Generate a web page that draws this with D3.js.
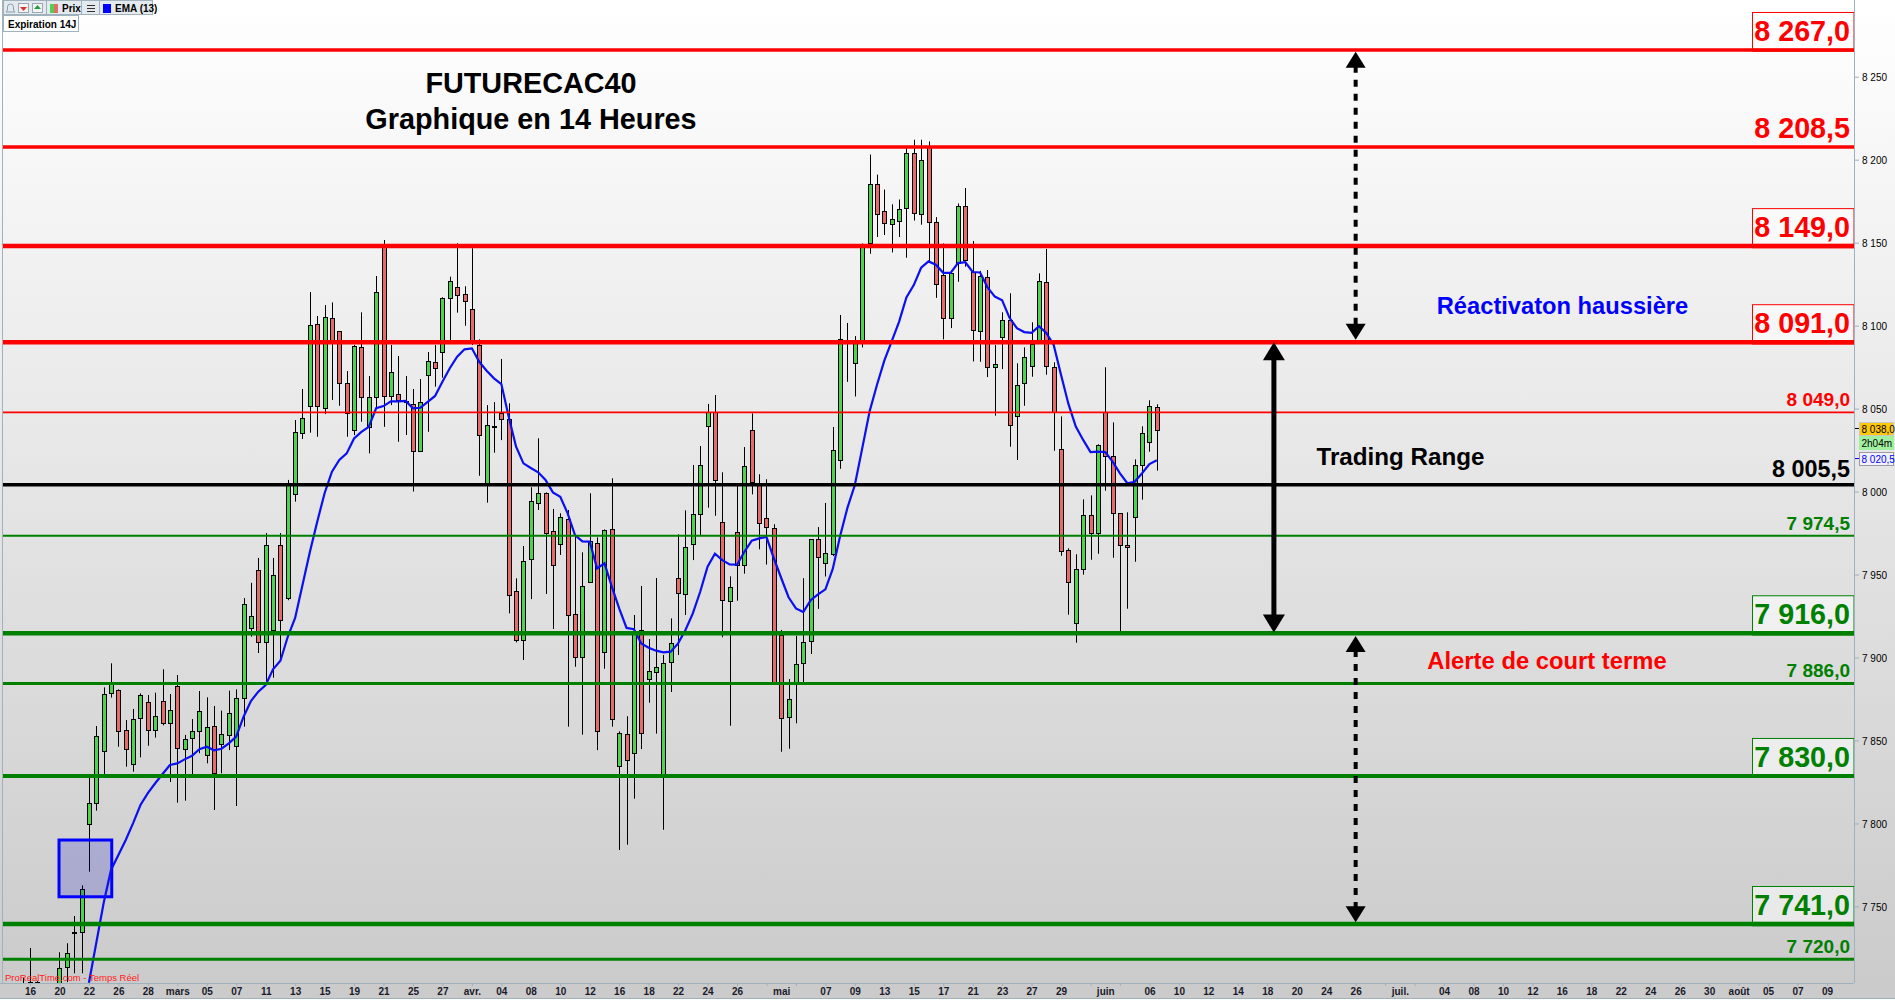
<!DOCTYPE html>
<html>
<head>
<meta charset="utf-8">
<style>
  html, body { margin: 0; padding: 0; background: #fff; }
  text { font-family: "Liberation Sans", Arial, sans-serif; }
</style>
<script src="https://cdn.jsdelivr.net/npm/d3@7"></script>
</head>
<body>
<div id="my_chart"></div>
<script>
// first bar of the arrays below sits one slot left of the "16" label
var firstBar = -1;

var barOpen = [
  7695, 7704.5, 7704.6, 7695, 7698, 7696.6, 7713.3, 7734.2, 7734.4, 7799.5,
  7812.1, 7843.5, 7878.4, 7880.2, 7856.1, 7835.6, 7863.3, 7873, 7856.1, 7873.6,
  7860.3, 7882.6, 7844.7, 7851.3, 7855.5, 7841.1, 7858.5, 7847.7, 7853.1, 7846.5,
  7875.4, 7918, 7952.7, 7909.1, 7916.6, 7967.8, 7935.8, 7998.3, 8035.1, 8051.4,
  8100.8, 8050.2, 8104.4, 8096.6, 8065.2, 8036.9, 8086.9, 8039, 8056.8, 8148,
  8057.4, 8058.6, 8053.7, 8052.6, 8024.2, 8070, 8077.9, 8083.9, 8116.4, 8123.1,
  8118.9, 8109.8, 8088.3, 8003.9, 8039.5, 8047.2, 8043.7, 7939.9, 7910.1, 7959.2,
  7992.9, 7999, 7976, 7968.2, 7983.3, 7926, 7900.1, 7945.3, 7968.8, 7903.1,
  7977.2, 7834.4, 7853.7, 7842.3, 7916.4, 7886.8, 7891.1, 7829.2, 7897.1, 7947.7,
  7938.1, 7968.2, 7986.3, 8039.3, 8047.9, 7981.5, 7933.9, 7975.4, 7955.5, 8036.9,
  8005.1, 7983.9, 7977.9, 7913.6, 7864, 7884.6, 7896.4, 7909.9, 7971.2, 7956.6,
  7962, 8018.9, 8090.1, 8077.2, 8090.1, 8149.5, 8185.1, 8168.9, 8161.5, 8163,
  8170.6, 8203.8, 8167.4, 8207.6, 8162.3, 8130.3, 8104.2, 8137.4, 8171.9, 8132.3,
  8096.4, 8129.1, 8074.7, 8092.7, 8103.2, 8045.3, 8065.2, 8075.5, 8091.3, 8126.1,
  8074.9, 8025.4, 7964.6, 7920.6, 7953.1, 7985.7, 7974.8, 8047.7, 8021.2, 7986.9,
  7967.6, 7984.5, 8015.8, 8029.7, 8050.8
];
var barHigh = [
  7706.9, 7724.9, 7705, 7700, 7702, 7722.4, 7727.8, 7744.2, 7762.7, 7829.2,
  7858.7, 7882, 7896.5, 7880.8, 7862.3, 7869, 7878.4, 7877.4, 7878.8, 7892.9,
  7878, 7889.4, 7853.3, 7862.9, 7879.8, 7876, 7870.8, 7868, 7880, 7880.8,
  7935.8, 7945, 7960, 7975, 7960, 7975, 8007, 8043.1, 8061.8, 8120.2,
  8105.8, 8112.4, 8114, 8096.7, 8072.6, 8088.3, 8108, 8069.6, 8129.9, 8151.6,
  8088.3, 8081.7, 8069.6, 8061.8, 8067.8, 8084.1, 8088.3, 8117.1, 8129.5, 8149.6,
  8123.7, 8146.6, 8091.7, 8052.1, 8053.9, 8079.9, 8053.2, 7947.7, 7967.2, 8002.6,
  8032.1, 7999.5, 7989.5, 7986.9, 7988.9, 7972.6, 7963.4, 7999, 7972.4, 7977.2,
  8008, 7855.5, 7864.6, 7925.6, 7943.1, 7911.1, 7947.9, 7901.5, 7923.6, 7974.2,
  7988.7, 8016, 8027.4, 8052.8, 8058.2, 8011.6, 7948.9, 8003.9, 8026.8, 8047.1,
  8010.4, 8007.4, 7980.3, 7916.6, 7887, 7913.1, 7947.8, 7971.4, 7978.6, 7993.1,
  8038.9, 8106.4, 8101.6, 8093.7, 8149.5, 8203.1, 8191, 8182, 8173.1, 8176,
  8207, 8212, 8212, 8211, 8165.4, 8149.5, 8133.5, 8173.6, 8182.9, 8151,
  8133, 8133.5, 8088.3, 8108, 8119.5, 8077.3, 8086.9, 8102, 8131.5, 8146.2,
  8077.9, 8045.3, 7965.8, 7962.2, 7995.3, 7997.7, 8028.5, 8074.9, 8041.7, 7987,
  7987.5, 8019.4, 8039.3, 8055, 8052.6
];
var barLow = [
  7690, 7696.6, 7695, 7690, 7692, 7693.6, 7704.4, 7709.7, 7709.7, 7770.9,
  7807.7, 7829.8, 7875.8, 7846.2, 7834.2, 7831.2, 7839.8, 7846.8, 7851.7, 7859.1,
  7825, 7812.5, 7813.7, 7829.2, 7842.3, 7836.2, 7808.1, 7830.2, 7844.2, 7810.5,
  7858.3, 7912.5, 7902.7, 7885.4, 7887.8, 7898.5, 7934.5, 7993.9, 8031.7, 8035.5,
  8033, 8046.7, 8055.2, 8051.7, 8033, 8034, 8042.1, 8023, 8050.3, 8039,
  8052.1, 8030, 8034.1, 8000, 8023.8, 8036, 8063.2, 8068.6, 8091.3, 8107.8,
  8099.9, 8088.3, 8009.5, 7993.3, 8023.4, 8031, 7926.6, 7909.1, 7898.5, 7935.2,
  7988.9, 7938.3, 7917.2, 7961.8, 7858.3, 7894.4, 7853.5, 7944.9, 7844.2, 7893.2,
  7858.3, 7784, 7787.2, 7814.9, 7844.8, 7872.7, 7854.1, 7796.2, 7879.2, 7901.5,
  7925.6, 7958.7, 7973.8, 7990.3, 7985.4, 7912.2, 7858.9, 7934.2, 7950.5, 7998.3,
  7965.2, 7956, 7884, 7843.2, 7845, 7860.3, 7885.2, 7902.1, 7929.3, 7948.8,
  7961.1, 8013.7, 8066.1, 8057.3, 8086.8, 8143.3, 8153.4, 8154.6, 8144.1, 8153.4,
  8140.9, 8163.3, 8160.8, 8137.9, 8116.7, 8091.7, 8098.5, 8126.4, 8135.5, 8078.4,
  8078.2, 8069, 8045.7, 8073.8, 8027, 8019, 8051.7, 8069.2, 8090.7, 8070.4,
  8024.6, 7961.3, 7925.8, 7908.9, 7949.9, 7958.9, 7962.5, 8000.5, 7960.1, 7915.8,
  7929.4, 7957.7, 7995.1, 8024, 8012.6
];
var barClose = [
  7692, 7704.2, 7700, 7698, 7700, 7713.1, 7721.7, 7734.6, 7760.3, 7812.1,
  7852.5, 7877.8, 7884.6, 7855.5, 7844.7, 7862.8, 7877.2, 7856.1, 7864.6, 7860.3,
  7868.2, 7845.3, 7850.7, 7855.5, 7867.6, 7857.9, 7830.2, 7853.7, 7866.4, 7875.4,
  7932.2, 7925, 7909.1, 7967.8, 7950, 7922.6, 8005, 8035.7, 8044.1, 8100.2,
  8051.4, 8105, 8090.1, 8065.2, 8047.1, 8087.5, 8056.8, 8056.8, 8120, 8057.4,
  8071.9, 8055, 8054.6, 8024.2, 8053.8, 8078.5, 8074.3, 8116.4, 8126.7, 8118.3,
  8114.4, 8090.1, 8033.9, 8039.9, 8039.2, 8043.5, 7937.5, 7910.1, 7958, 7994.1,
  7999, 7974.6, 7955.5, 7984.5, 7925.4, 7900.1, 7942.9, 7970, 7855.5, 7976.6,
  7862.7, 7854.3, 7838.1, 7915.4, 7854.3, 7891.7, 7894.1, 7896.5, 7908.5, 7938.7,
  7966.4, 7986.3, 8015.8, 8047.9, 8006.8, 7934.5, 7942.3, 7955.5, 8015.2, 8005.6,
  7980.9, 7978.4, 7884.6, 7863.4, 7874.8, 7895.9, 7909.2, 7971.2, 7960.4, 7962.8,
  8024.8, 8091.7, 8091.3, 8090.1, 8148, 8185.1, 8166.9, 8161.5, 8164.5, 8170.4,
  8203.8, 8167.4, 8200.1, 8162.3, 8124.9, 8104.2, 8131.5, 8171.9, 8139.2, 8097.1,
  8129.8, 8074.7, 8076.7, 8103.2, 8039.9, 8064, 8080.9, 8088.7, 8126.7, 8075.5,
  8047.7, 7964, 7945.3, 7953.1, 7985.7, 7974.8, 8027.9, 8021.2, 7986.9, 7967.6,
  7966.4, 8015.8, 8035.1, 8051.4, 8036.9
];

// EMA (13), one value per bar from bar 8 on
var emaFirstBar = 8;
var emaValues = [
  7704, 7728, 7752, 7772, 7781, 7790, 7800.2, 7811.1, 7818.3, 7824.2,
  7829.8, 7835.2, 7836.2, 7838.6, 7840.8, 7844.7, 7846.2, 7844.1, 7845, 7848.3,
  7852.3, 7864.3, 7873.8, 7879.4, 7883.4, 7892.9, 7898, 7912.5, 7923.8, 7943.7,
  7963.6, 7981.8, 7999, 8012, 8019, 8023, 8032, 8036, 8039, 8050.2,
  8051.5, 8054.4, 8054.4, 8054.6, 8050.2, 8050.5, 8054.1, 8057.6, 8066.2, 8074.3,
  8081.3, 8085.7, 8086.3, 8078.2, 8072.8, 8068.2, 8064.8, 8045.1, 8027, 8017,
  8014.2, 8011.6, 8007, 7999.5, 7996.9, 7986.9, 7973.8, 7970, 7969.8, 7953.7,
  7956.8, 7942.7, 7929.6, 7917.8, 7917, 7908.5, 7905.9, 7904.1, 7903.1, 7903.5,
  7908.5, 7916.6, 7926.6, 7939.6, 7954.7, 7962.5, 7958.7, 7956.1, 7955.9, 7963.7,
  7970.4, 7971.8, 7972.6, 7959.8, 7947.9, 7936.3, 7929.6, 7927.4, 7934.5, 7938,
  7941.1, 7953.4, 7973.2, 7990.3, 8003.9, 8026, 8048.2, 8064.2, 8078.9, 8090.5,
  8102.3, 8117, 8124.4, 8134.9, 8138.7, 8136.7, 8131.8, 8131.8, 8137.7, 8138.2,
  8132.3, 8132, 8123.2, 8117.5, 8115.3, 8104.7, 8098.5, 8096.1, 8095.6, 8099.6,
  8095.6, 8088.3, 8070.2, 8052.8, 8039.2, 8031.1, 8023.8, 8024, 8023.8, 8018,
  8011, 8005, 8005.9, 8011, 8016.6, 8018.8
];

// horizontal levels: where the line is drawn, its text, and its look
var levelValues = [8266.1, 8207.6, 8147.9, 8090, 8047.7, 8004.1, 7973.4, 7914.6, 7884.4, 7828.6, 7739.4, 7718.2];
var levelLabels = ["8 267,0", "8 208,5", "8 149,0", "8 091,0", "8 049,0", "8 005,5", "7 974,5", "7 916,0", "7 886,0", "7 830,0", "7 741,0", "7 720,0"];
var levelColors = ["#ff0000", "#ff0000", "#ff0000", "#ff0000", "#ff0000", "#000000", "#008000", "#008000", "#008000", "#008000", "#008000", "#008000"];
var levelWidths = [3.5, 3.5, 4.5, 4.5, 1.7, 3.5, 2, 4.5, 3, 4, 4.5, 3];
var levelKinds = ["box", "big", "box", "box", "small", "mid", "small", "box", "small", "box", "box", "small"];

var priceTicks = [7750, 7800, 7850, 7900, 7950, 8000, 8050, 8100, 8150, 8200, 8250];
var dateBars = [0, 4, 8, 12, 16, 20, 24, 28, 32, 36, 40, 44, 48, 52, 56, 60, 64, 68, 72, 76, 80, 84, 88, 92, 96, 102, 108, 112, 116, 120, 124, 128, 132, 136, 140, 146, 152, 156, 160, 164, 168, 172, 176, 180, 186, 192, 196, 200, 204, 208, 212, 216, 220, 224, 228, 232, 236, 240, 244];
var dateLabels = ["16", "20", "22", "26", "28", "mars", "05", "07", "11", "13", "15", "19", "21", "25", "27", "avr.", "04", "08", "10", "12", "16", "18", "22", "24", "26", "mai", "07", "09", "13", "15", "17", "21", "23", "27", "29", "juin", "06", "10", "12", "14", "18", "20", "24", "26", "juil.", "04", "08", "10", "12", "16", "18", "22", "24", "26", "30", "août", "05", "07", "09"];

var lastPrice = 8038, emaLast = 8020.5;

var width = 1895, height = 1000,
    plot = { left: 3, right: 1854, top: 0, bottom: 983 },
    up_color = "#4fd24f", down_color = "#e56a6a", blue = "#0a10f0", frame_color = "#9fb1bd";

var x = d3.scaleLinear().domain([0, 244]).range([30, 1827]);
var y = d3.scaleLinear().domain([8250, 7750]).range([76.7, 906.4]);

var svg = d3.select("#my_chart").append("svg")
    .attr("width", width).attr("height", height)
    .style("display", "block");

var defs = svg.append("defs");
var grad = defs.append("linearGradient").attr("id", "bg_grad")
    .attr("gradientUnits", "userSpaceOnUse")
    .attr("x1", 0).attr("y1", 0).attr("x2", 0).attr("y2", plot.bottom);
grad.append("stop").attr("offset", "0%").attr("stop-color", "#ffffff");
grad.append("stop").attr("offset", "100%").attr("stop-color", "#cbcbcb");
defs.append("clipPath").attr("id", "plot_clip").append("rect")
    .attr("x", plot.left).attr("y", plot.top)
    .attr("width", plot.right - plot.left).attr("height", plot.bottom - plot.top);

svg.append("rect").attr("width", width).attr("height", 999).attr("fill", "url(#bg_grad)");

var g_plot = svg.append("g").attr("clip-path", "url(#plot_clip)");

// candles
var bars = barOpen.map(function (o, i) {
    return { bar: i + firstBar, o: o, h: barHigh[i], l: barLow[i], c: barClose[i] };
});
var px = function (d) { return Math.round(x(d)) + 0.5; };

g_plot.append("g").selectAll("line").data(bars).enter().append("line")
    .attr("x1", function (d) { return px(d.bar); })
    .attr("x2", function (d) { return px(d.bar); })
    .attr("y1", function (d) { return y(d.h); })
    .attr("y2", function (d) { return y(d.l); })
    .attr("stroke", "#000").attr("stroke-width", 1);

g_plot.append("g").selectAll("rect").data(bars).enter().append("rect")
    .attr("x", function (d) { return px(d.bar) - 2; })
    .attr("width", 4)
    .attr("y", function (d) { return Math.round(y(Math.max(d.o, d.c))) + 0.5; })
    .attr("height", function (d) { return Math.max(1, Math.round(y(Math.min(d.o, d.c)) - y(Math.max(d.o, d.c)))); })
    .attr("fill", function (d) { return d.c >= d.o ? up_color : down_color; })
    .attr("stroke", "#000").attr("stroke-width", 1);

// the blue square drawn by hand on the chart
g_plot.append("rect")
    .attr("x", x(3.94)).attr("y", y(7790))
    .attr("width", x(11.1) - x(3.94)).attr("height", y(7755.8) - y(7790))
    .attr("fill", "rgba(0,0,200,0.18)")
    .attr("stroke", "#0000ff").attr("stroke-width", 3);

// EMA
var ema_line = d3.line()
    .x(function (d, i) { return x(i + emaFirstBar); })
    .y(function (d) { return y(d); });
g_plot.append("path").attr("d", ema_line(emaValues))
    .attr("fill", "none").attr("stroke", blue).attr("stroke-width", 2.2);

// levels
g_plot.append("g").selectAll("line").data(levelValues).enter().append("line")
    .attr("x1", plot.left).attr("x2", plot.right)
    .attr("y1", function (d) { return y(d); }).attr("y2", function (d) { return y(d); })
    .attr("stroke", function (d, i) { return levelColors[i]; })
    .attr("stroke-width", function (d, i) { return levelWidths[i]; });

var kind_size = { box: 28.7, big: 28.7, mid: 23.4, small: 19 };
var kind_gap = { box: 9, big: 9, mid: 8, small: 6 };

levelValues.forEach(function (v, i) {
    var k = levelKinds[i];
    if (k == "box") {
        svg.append("rect")
            .attr("x", 1752.5).attr("y", y(v) - 37.5)
            .attr("width", plot.right - 1752.5).attr("height", 37.5)
            .attr("fill", "rgba(255,255,255,0.55)")
            .attr("stroke", levelColors[i]).attr("stroke-width", 1);
        svg.append("line")
            .attr("x1", 1752).attr("x2", plot.right)
            .attr("y1", y(v)).attr("y2", y(v))
            .attr("stroke", levelColors[i]).attr("stroke-width", levelWidths[i]);
    }
    svg.append("text")
        .attr("x", 1850).attr("y", y(v) - kind_gap[k])
        .attr("text-anchor", "end")
        .style("font-size", kind_size[k] + "px").style("font-weight", "bold")
        .style("fill", levelColors[i])
        .text(levelLabels[i]);
});

// arrows between levels
function draw_arrow(bar, v1, v2, dashed, w, head_w, head_h) {
    var ax = x(bar), ya = y(v1), yb = y(v2);
    svg.append("line")
        .attr("x1", ax).attr("x2", ax)
        .attr("y1", ya + head_h - 2).attr("y2", yb - head_h + 2)
        .attr("stroke", "#000").attr("stroke-width", w)
        .attr("stroke-dasharray", dashed ? "7,7" : null);
    svg.append("path")
        .attr("d", "M" + ax + "," + ya + "l" + (-head_w / 2) + "," + head_h + "h" + head_w + "z")
        .attr("fill", "#000");
    svg.append("path")
        .attr("d", "M" + ax + "," + yb + "l" + (-head_w / 2) + "," + (-head_h) + "h" + head_w + "z")
        .attr("fill", "#000");
}
draw_arrow(180, 8265, 8091.5, true, 4, 20, 16);
draw_arrow(180, 7913, 7740.5, true, 4, 20, 16);
draw_arrow(168.9, 8090, 7915, false, 5, 22, 18);

// titles and notes
function add_text(tx, ty, size, color, str) {
    svg.append("text").attr("x", tx).attr("y", ty)
        .attr("text-anchor", "middle")
        .style("font-size", size + "px").style("font-weight", "bold")
        .style("fill", color).text(str);
}
add_text(531, 93, 28.8, "#000", "FUTURECAC40");
add_text(531, 128.5, 28.8, "#000", "Graphique en 14 Heures");
add_text(1562.5, 314, 23.7, "#0000ff", "Réactivaton haussière");
add_text(1400.5, 465, 24.2, "#000", "Trading Range");
add_text(1547, 669, 23.8, "#ff0000", "Alerte de court terme");

svg.append("text").attr("x", 5).attr("y", 981)
    .style("font-size", "9.5px").style("fill", "#ff2020")
    .text("ProRealTime.com - Temps Réel");

// price axis on the right
var price_fmt = d3.formatLocale({ decimal: ",", thousands: " ", grouping: [3], currency: ["", ""] }).format(",");
var y_axis = svg.append("g").attr("transform", "translate(" + plot.right + ",0)")
    .call(d3.axisRight(y).tickValues(priceTicks).tickFormat(price_fmt).tickSize(5).tickPadding(3));
y_axis.select(".domain").remove();
y_axis.selectAll("line").attr("stroke", frame_color);
y_axis.selectAll("text").attr("dy", "0.42em").style("font-size", "10px").style("font-family", "Liberation Sans").style("fill", "#000");

// date axis
var x_marks = svg.append("g").attr("transform", "translate(0," + plot.bottom + ")")
    .call(d3.axisBottom(x).tickValues(d3.range(0, 248, 4)).tickFormat("").tickSize(3));
x_marks.select(".domain").remove();
x_marks.selectAll("line").attr("stroke", frame_color);

var label_map = new Map(dateBars.map(function (b, i) { return [b, dateLabels[i]]; }));
var x_labels = svg.append("g").attr("transform", "translate(0," + plot.bottom + ")")
    .call(d3.axisBottom(x).tickValues(dateBars).tickFormat(function (b) { return label_map.get(b); }).tickSize(0).tickPadding(5));
x_labels.select(".domain").remove();
x_labels.selectAll("text").style("font-size", "10px").style("font-weight", "bold")
    .style("font-family", "Liberation Sans").style("fill", "#1a1a2a");

// frame
svg.append("line").attr("x1", plot.right + 0.5).attr("x2", plot.right + 0.5).attr("y1", 0).attr("y2", plot.bottom).attr("stroke", frame_color);
svg.append("line").attr("x1", 0).attr("x2", plot.right).attr("y1", plot.bottom + 0.5).attr("y2", plot.bottom + 0.5).attr("stroke", frame_color);
svg.append("line").attr("x1", 2.5).attr("x2", 2.5).attr("y1", 0).attr("y2", plot.bottom).attr("stroke", frame_color);
svg.append("line").attr("x1", 0).attr("x2", width).attr("y1", 998.5).attr("y2", 998.5).attr("stroke", frame_color);

// live price tags
function tag(ty, fill, color, border, str) {
    svg.append("rect").attr("x", 1859.5).attr("y", ty).attr("width", 34).attr("height", 13)
        .attr("fill", fill).attr("stroke", border);
    svg.append("text").attr("x", 1861.5).attr("y", ty + 10.5)
        .style("font-size", "10px").style("fill", color).text(str);
}
svg.append("line").attr("x1", plot.right + 1).attr("x2", 1859).attr("y1", y(lastPrice)).attr("y2", y(lastPrice)).attr("stroke", "#000");
svg.append("line").attr("x1", plot.right + 1).attr("x2", 1859).attr("y1", y(emaLast) + 1).attr("y2", y(emaLast) + 1).attr("stroke", "#0000ff");
tag(422.5, "#ffc80a", "#000", "#c8c8c8", "8 038,0");
tag(436.5, "#a0f0a0", "#000", "#a0f0a0", "2h04m");
tag(452.5, "#f2f2ff", "#0000ff", "#9a9aa0", "8 020,5");

// toolbar at the top left
var bar_g = svg.append("g");
bar_g.append("rect").attr("x", 3.5).attr("y", 0.5).attr("width", 149).attr("height", 14)
    .attr("fill", "#e4e9ee").attr("stroke", frame_color);
[46.5, 81.5, 99.5].forEach(function (sx) {
    bar_g.append("line").attr("x1", sx).attr("x2", sx).attr("y1", 0).attr("y2", 15).attr("stroke", frame_color);
});
// bell outline, then the red down and green up buttons
bar_g.append("path").attr("d", "M6,12h9l-1.5,-2v-3a3,3 0 0 0 -6,0v3z").attr("fill", "none").attr("stroke", "#8aa0b0");
[[18, "#e03030", "M20,7h7l-3.5,4z"], [32, "#20a040", "M34,9h7l-3.5,-4z"]].forEach(function (b) {
    bar_g.append("rect").attr("x", b[0] + 0.5).attr("y", 3.5).attr("width", 10).attr("height", 9)
        .attr("fill", "#f4f4f4").attr("stroke", "#9aa8b4");
    bar_g.append("path").attr("d", b[2]).attr("fill", b[1]);
});
bar_g.append("rect").attr("x", 50).attr("y", 4).attr("width", 4).attr("height", 9).attr("fill", up_color);
bar_g.append("rect").attr("x", 54).attr("y", 4).attr("width", 4).attr("height", 9).attr("fill", down_color);
bar_g.append("text").attr("x", 62).attr("y", 12).style("font-size", "10px").style("font-weight", "bold").text("Prix");
[5, 8, 11].forEach(function (ly) {
    bar_g.append("line").attr("x1", 87).attr("x2", 95).attr("y1", ly + 0.5).attr("y2", ly + 0.5).attr("stroke", "#333");
});
bar_g.append("rect").attr("x", 103).attr("y", 4).attr("width", 8).attr("height", 9).attr("fill", "#0000ff");
bar_g.append("text").attr("x", 115).attr("y", 12).style("font-size", "10px").style("font-weight", "bold").text("EMA (13)");

bar_g.append("rect").attr("x", 3.5).attr("y", 15.5).attr("width", 75).attr("height", 16)
    .attr("fill", "#fff").attr("stroke", frame_color);
bar_g.append("text").attr("x", 8).attr("y", 28).style("font-size", "10px").style("font-weight", "bold").text("Expiration  14J");
</script>
</body>
</html>
